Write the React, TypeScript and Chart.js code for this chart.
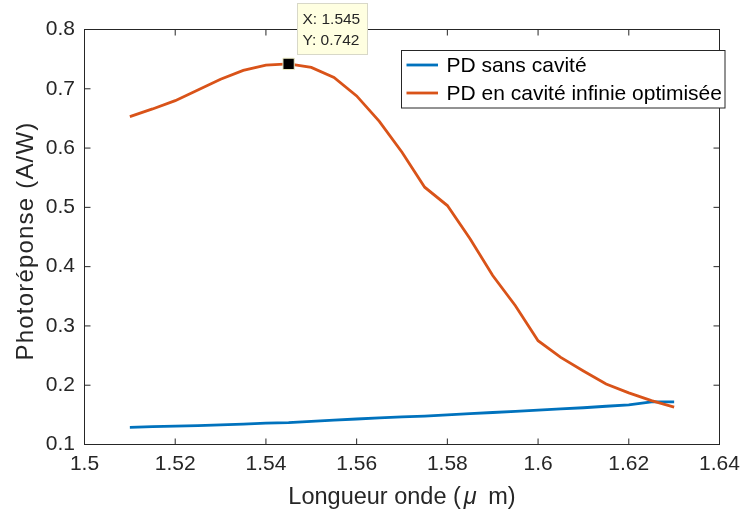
import React, { useEffect, useRef } from 'react';
import { Chart, registerables } from 'chart.js';

Chart.register(...registerables);

// Wavelength (µm)
const wavelengths = [
  1.51, 1.515, 1.52, 1.525, 1.53, 1.535, 1.54, 1.545, 1.55, 1.555, 1.56, 1.565,
  1.57, 1.575, 1.58, 1.585, 1.59, 1.595, 1.6, 1.605, 1.61, 1.615, 1.62, 1.625, 1.63,
];

// Photoresponse (A/W)
const pdSansCavite = [
  0.129, 0.13, 0.131, 0.132, 0.133, 0.1345, 0.136, 0.137, 0.139, 0.141, 0.143, 0.145,
  0.1465, 0.148, 0.15, 0.152, 0.154, 0.156, 0.158, 0.16, 0.162, 0.1645, 0.167, 0.172, 0.172,
];

const pdCaviteOptimisee = [
  0.653, 0.666, 0.68, 0.698, 0.716, 0.731, 0.74, 0.742, 0.736, 0.719, 0.688, 0.645,
  0.593, 0.534, 0.503, 0.447, 0.385, 0.334, 0.275, 0.247, 0.224, 0.202, 0.187, 0.174, 0.163,
];

const seriesLabels = ['PD sans cavité', 'PD en cavité infinie optimisée'];
const seriesColors = ['#0072BD', '#D95319'];

const xTickValues = [1.5, 1.52, 1.54, 1.56, 1.58, 1.6, 1.62, 1.64];
const yTickValues = [0.1, 0.2, 0.3, 0.4, 0.5, 0.6, 0.7, 0.8];

// x title: "Longueur onde (μ m)" (μ drawn in italic, as MATLAB's TeX)
const xTitleParts = ['Longueur onde (', '\u03BC', ' m)'];
const yTitle = 'Photoréponse (A/W)';

const tipIndex = 7;

const FONT = "'Liberation Sans', Arial, Helvetica, sans-serif";
const TEXT = '#262626';

const framePlugin = {
  id: 'matlabFrame',
  afterDatasetsDraw(chart: any) {
    const { ctx, chartArea: a, scales } = chart;
    ctx.save();
    ctx.strokeStyle = TEXT;
    ctx.lineWidth = 1;
    ctx.strokeRect(a.left, a.top, a.right - a.left, a.bottom - a.top);
    const tl = 6;
    ctx.beginPath();
    for (const v of xTickValues) {
      const px = scales.x.getPixelForValue(v);
      ctx.moveTo(px, a.bottom);
      ctx.lineTo(px, a.bottom - tl);
      ctx.moveTo(px, a.top);
      ctx.lineTo(px, a.top + tl);
    }
    for (const v of yTickValues) {
      const py = scales.y.getPixelForValue(v);
      ctx.moveTo(a.left, py);
      ctx.lineTo(a.left + tl, py);
      ctx.moveTo(a.right, py);
      ctx.lineTo(a.right - tl, py);
    }
    ctx.stroke();
    ctx.restore();
  },
  afterDraw(chart: any) {
    const { ctx, scales, chartArea: a } = chart;
    ctx.save();

    // Axis titles
    ctx.fillStyle = TEXT;
    ctx.textBaseline = 'alphabetic';
    ctx.textAlign = 'left';
    const normal = `23.5px ${FONT}`;
    const italic = `italic 23.5px ${FONT}`;
    ctx.font = normal;
    const w0 = ctx.measureText(xTitleParts[0]).width;
    const w2 = ctx.measureText(xTitleParts[2]).width;
    ctx.font = italic;
    const w1 = ctx.measureText(xTitleParts[1]).width;
    const g1 = 3, g2 = 5;
    const total = w0 + g1 + w1 + g2 + w2;
    let tx = (a.left + a.right) / 2 - total / 2;
    const ty = 503.5;
    ctx.font = normal;
    ctx.fillText(xTitleParts[0], tx, ty);
    tx += w0 + g1;
    ctx.font = italic;
    ctx.fillText(xTitleParts[1], tx, ty);
    tx += w1 + g2;
    ctx.font = normal;
    ctx.fillText(xTitleParts[2], tx, ty);

    ctx.save();
    ctx.translate(33.3, 241);
    ctx.rotate(-Math.PI / 2);
    ctx.font = `24px ${FONT}`;
    try { (ctx as any).letterSpacing = '1.2px'; } catch (e) { /* ignore */ }
    const wy = ctx.measureText(yTitle).width;
    ctx.fillText(yTitle, -wy / 2, 0);
    try { (ctx as any).letterSpacing = '0px'; } catch (e) { /* ignore */ }
    ctx.restore();

    // Legend
    const lx = 401.5, ly = 50.5, lw = 323.5, lh = 57.5;
    ctx.fillStyle = '#ffffff';
    ctx.fillRect(lx, ly, lw, lh);
    ctx.strokeStyle = TEXT;
    ctx.lineWidth = 1;
    ctx.strokeRect(lx, ly, lw, lh);
    ctx.font = `21px ${FONT}`;
    ctx.textBaseline = 'middle';
    ctx.textAlign = 'left';
    seriesLabels.forEach((label, i) => {
      const yy = 65 + i * 28;
      ctx.strokeStyle = seriesColors[i];
      ctx.lineWidth = 2.8;
      ctx.beginPath();
      ctx.moveTo(406.5, yy);
      ctx.lineTo(438, yy);
      ctx.stroke();
      ctx.fillStyle = '#000';
      ctx.fillText(label, 446.5, yy + 1);
    });

    // Data tip
    const xv = wavelengths[tipIndex];
    const yv = pdCaviteOptimisee[tipIndex];
    const px = scales.x.getPixelForValue(xv);
    const py = scales.y.getPixelForValue(yv);
    const bx = Math.round(px + 8) + 0.5;
    const bh = 51;
    const by = Math.round(py - 10 - bh) + 0.5;
    const bw = 70;
    ctx.fillStyle = '#FFFFE1';
    ctx.fillRect(bx, by, bw, bh);
    ctx.strokeStyle = '#d8d8c8';
    ctx.lineWidth = 1;
    ctx.strokeRect(bx, by, bw, bh);
    ctx.fillStyle = TEXT;
    ctx.font = `15.5px ${FONT}`;
    ctx.textBaseline = 'middle';
    ctx.fillText(`X: ${xv}`, bx + 5, by + 16.5);
    ctx.fillText(`Y: ${yv}`, bx + 5, by + 37);
    ctx.restore();
  },
};

export default function App() {
  const ref = useRef<HTMLCanvasElement | null>(null);

  useEffect(() => {
    if (!ref.current) return;
    const chart = new Chart(ref.current, {
      type: 'line',
      data: {
        datasets: [
          {
            label: seriesLabels[0],
            data: wavelengths.map((x, i) => ({ x, y: pdSansCavite[i] })),
            borderColor: seriesColors[0],
            backgroundColor: seriesColors[0],
            borderWidth: 2.8,
            pointRadius: 0,
            tension: 0,
            order: 2,
          },
          {
            label: seriesLabels[1],
            data: wavelengths.map((x, i) => ({ x, y: pdCaviteOptimisee[i] })),
            borderColor: seriesColors[1],
            backgroundColor: seriesColors[1],
            borderWidth: 2.8,
            pointRadius: 0,
            tension: 0,
            order: 1,
          },
          {
            label: 'tip',
            data: [{ x: wavelengths[tipIndex], y: pdCaviteOptimisee[tipIndex] }],
            showLine: false,
            pointStyle: 'rect',
            pointRadius: 8,
            pointBackgroundColor: '#000000',
            pointBorderColor: '#ecebc4',
            pointBorderWidth: 1,
            order: 0,
          },
        ],
      },
      options: {
        responsive: false,
        animation: false,
        devicePixelRatio: 1,
        layout: { padding: { left: 0, top: 29.5, right: 24.5, bottom: 0 } },
        plugins: {
          legend: { display: false },
          tooltip: { enabled: false },
        },
        scales: {
          x: {
            type: 'linear',
            min: 1.5,
            max: 1.64,
            afterBuildTicks: (scale: any) => {
              scale.ticks = xTickValues.map((v) => ({ value: v }));
            },
            afterFit: (scale: any) => {
              scale.height = 73.5;
              scale.paddingLeft = 0;
              scale.paddingRight = 0;
            },
            grid: { display: false, drawTicks: false },
            border: { display: false },
            ticks: {
              padding: 6.7,
              color: TEXT,
              font: { family: FONT, size: 21 },
              maxRotation: 0,
              autoSkip: false,
              callback: (v: any) => String(Number(Number(v).toFixed(3))),
            },
            title: { display: false },
          },
          y: {
            type: 'linear',
            min: 0.1,
            max: 0.8,
            afterBuildTicks: (scale: any) => {
              scale.ticks = yTickValues.map((v) => ({ value: v }));
            },
            afterFit: (scale: any) => {
              scale.width = 84.5;
              scale.paddingTop = 0;
              scale.paddingBottom = 0;
            },
            grid: { display: false, drawTicks: false },
            border: { display: false },
            ticks: {
              padding: 9.5,
              color: TEXT,
              font: { family: FONT, size: 21 },
              autoSkip: false,
              callback: (v: any) => String(Number(Number(v).toFixed(3))),
            },
            title: { display: false },
          },
        },
      },
      plugins: [framePlugin],
    });
    return () => chart.destroy();
  }, []);

  return (
    <div style={{ position: 'absolute', left: 0, top: 0, width: 744, height: 518, background: '#fff' }}>
      <canvas ref={ref} width={744} height={518} />
    </div>
  );
}
